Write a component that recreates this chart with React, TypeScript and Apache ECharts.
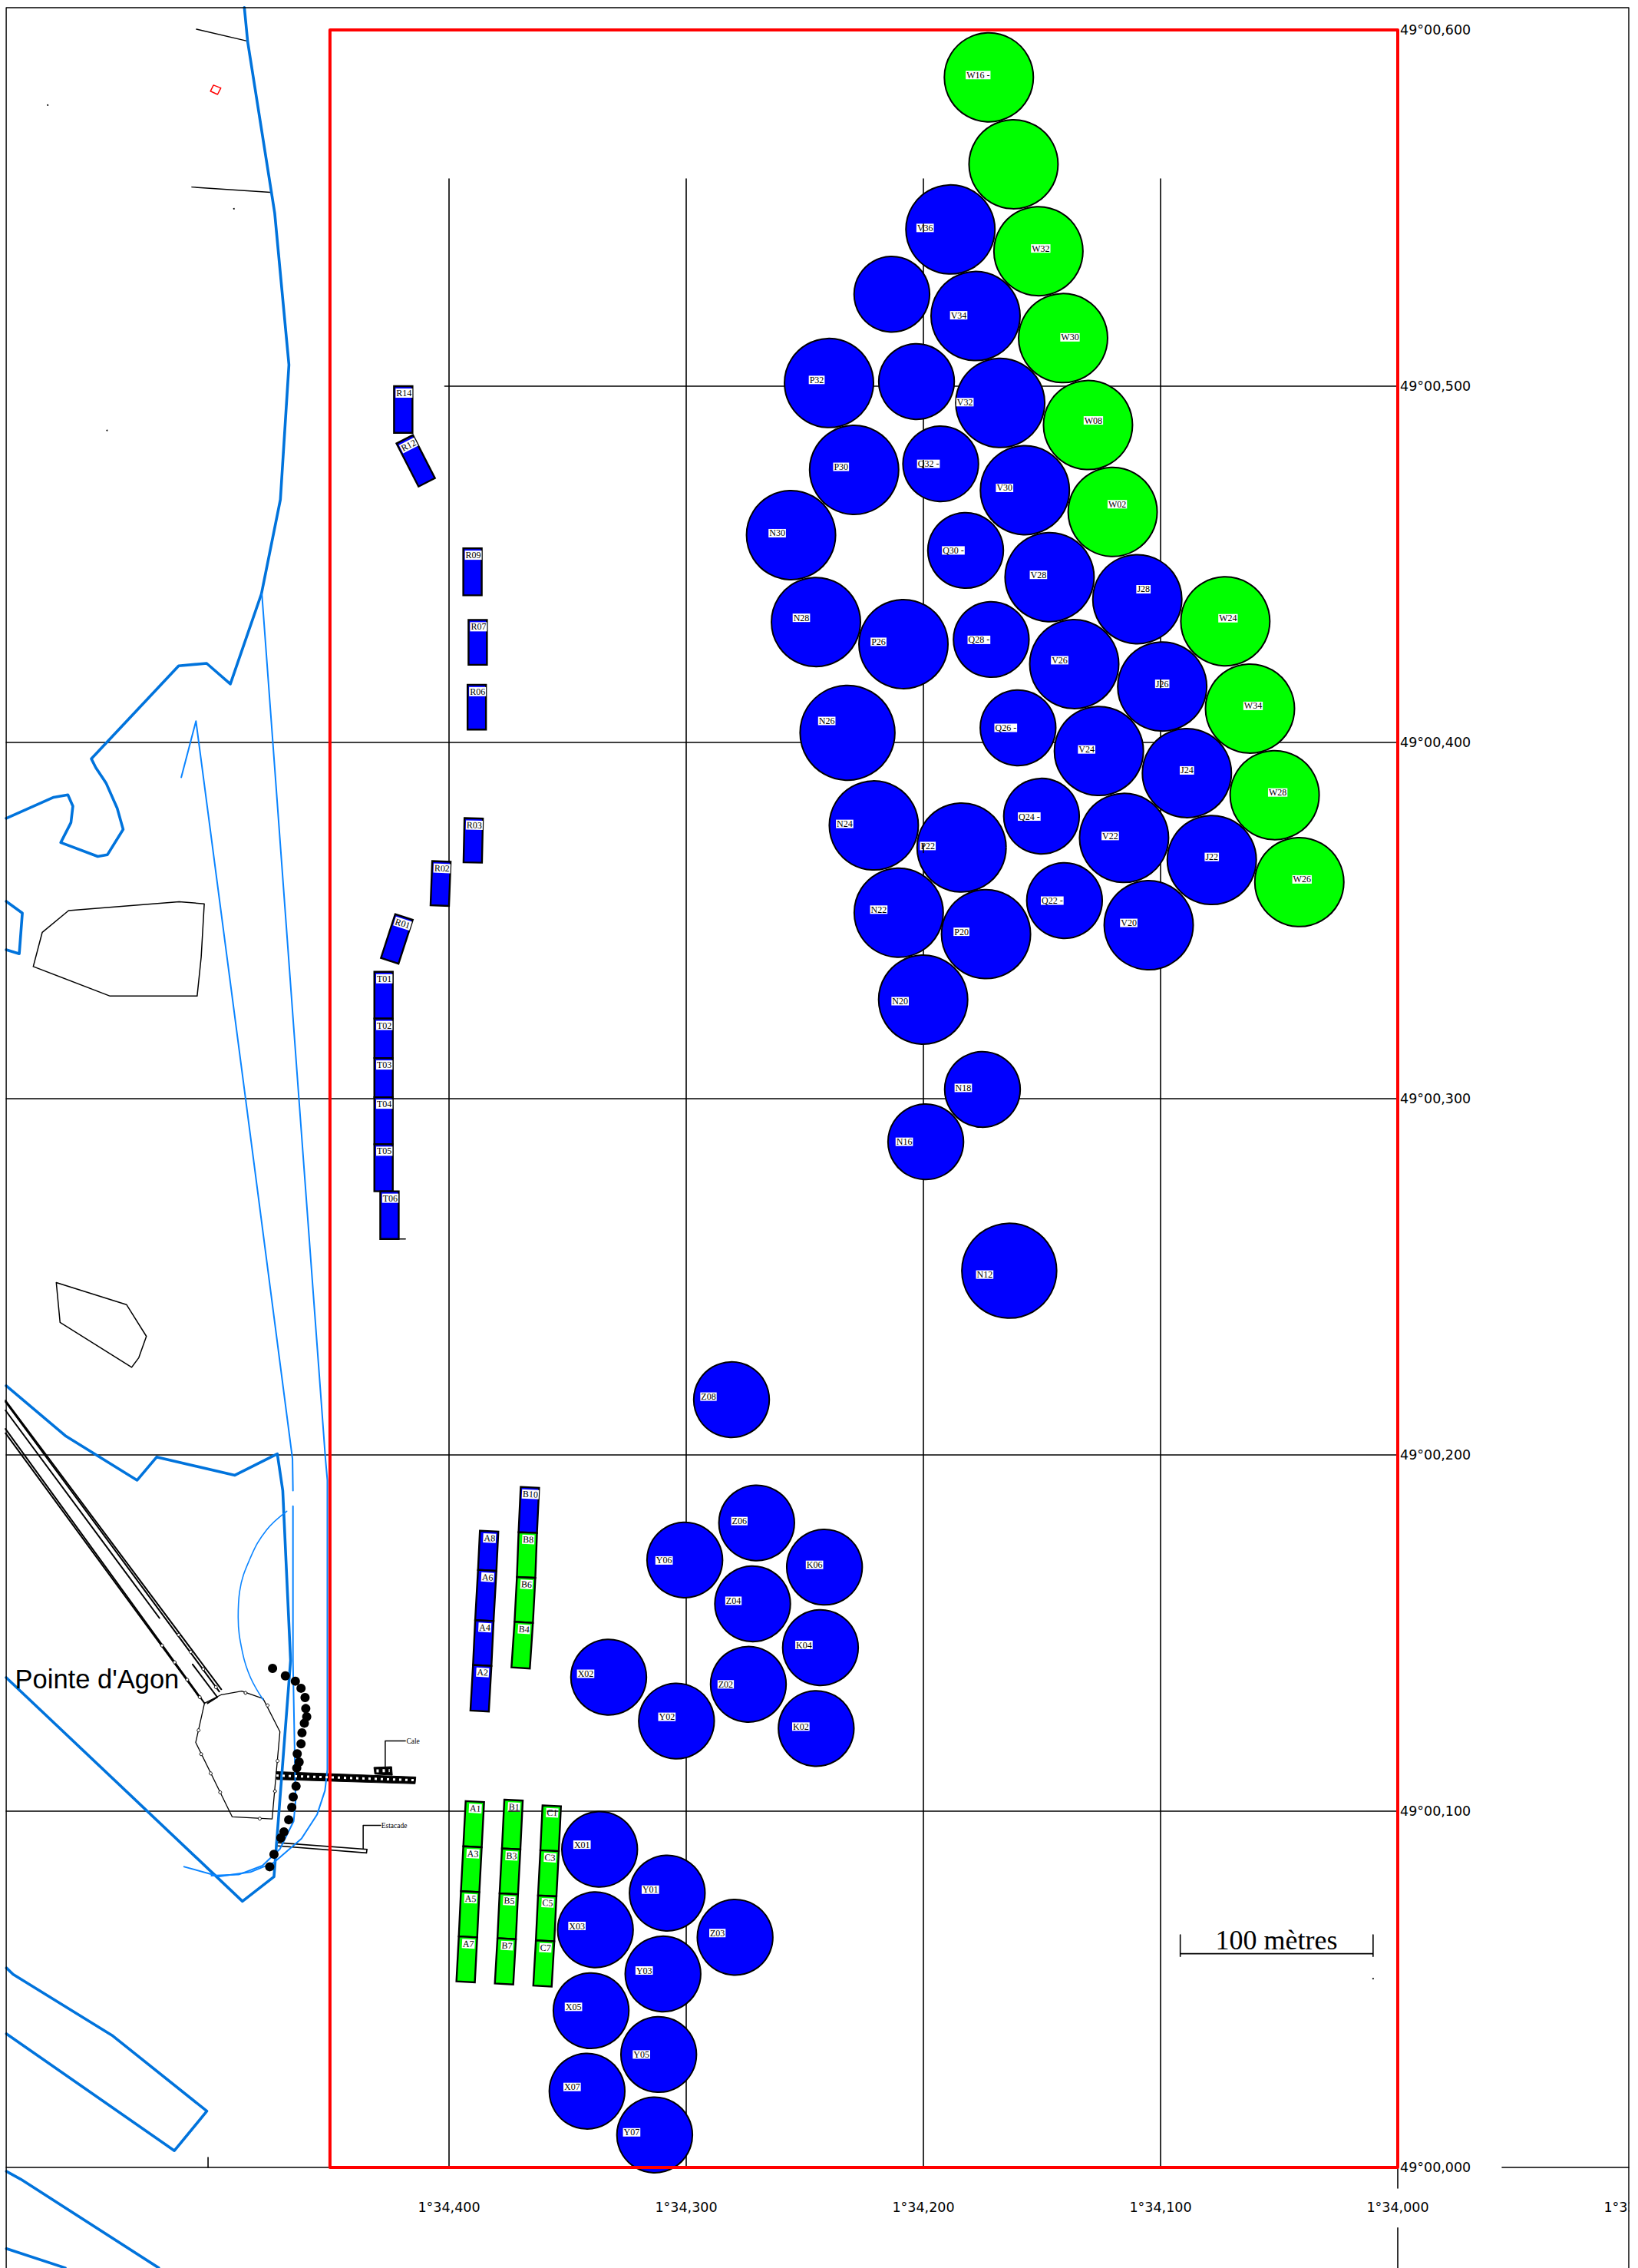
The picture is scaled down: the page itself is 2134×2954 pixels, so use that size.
import React, { useEffect, useRef } from "react";
import * as echarts from "echarts";

// ---- axes (longitude is read right to left, minutes x 1000)
const lonMin = 33900, lonMax = 34600, lonStep = 100;
const latMin = 0, latMax = 600, latStep = 100;
const lonLabelled = [33900, 34000, 34100, 34200, 34300, 34400];

// ---- circular plots: [label, lon, lat, diameter in metres, status]
type Circle = [string, number, number, number, string];
const greenCircles: Circle[] = [
  ["W16 -", 34172.4, 586.7, 47, "g"], ["", 34162.0, 562.3, 47, "g"], ["W32", 34151.5, 537.9, 47, "g"],
  ["W30", 34141.1, 513.5, 47, "g"], ["W08", 34130.6, 489.1, 47, "g"], ["W02", 34120.2, 464.7, 47, "g"],
  ["W24", 34072.7, 434.0, 47, "g"], ["W34", 34062.3, 409.5, 47, "g"], ["W28", 34051.9, 385.2, 47, "g"],
  ["W26", 34041.5, 360.8, 47, "g"],
];
const vCircles: Circle[] = [
  ["V36", 34188.6, 544.0, 47, "b"], ["V34", 34178.0, 519.7, 47, "b"], ["V32", 34167.6, 495.3, 47, "b"],
  ["V30", 34157.2, 470.8, 47, "b"], ["V28", 34146.8, 446.4, 47, "b"], ["V26", 34136.4, 422.0, 47, "b"],
  ["V24", 34126.0, 397.6, 47, "b"], ["V22", 34115.4, 373.2, 47, "b"], ["V20", 34105.0, 348.7, 47, "b"],
];
const jCircles: Circle[] = [
  ["J28", 34109.8, 440.2, 47, "b"], ["J26", 34099.3, 415.7, 47, "b"], ["J24", 34088.9, 391.4, 47, "b"], ["J22", 34078.4, 367.0, 47, "b"],
];
const qCircles: Circle[] = [
  ["", 34213.3, 525.8, 40, "b"], ["", 34202.9, 501.3, 40, "b"], ["Q32 -", 34192.7, 478.2, 40, "b"],
  ["Q30 -", 34182.2, 453.9, 40, "b"], ["Q28 -", 34171.4, 428.9, 40, "b"], ["Q26 -", 34160.1, 404.1, 40, "b"],
  ["Q24 -", 34150.2, 379.3, 40, "b"], ["Q22 -", 34140.5, 355.6, 40, "b"],
];
const pCircles: Circle[] = [
  ["P32", 34239.8, 500.9, 47, "b"], ["P30", 34229.2, 476.5, 47, "b"], ["P26", 34208.4, 427.6, 47, "b"],
  ["P22", 34183.9, 370.5, 47, "b"], ["P20", 34173.6, 346.2, 47, "b"],
];
const nCircles: Circle[] = [
  ["N30", 34255.8, 458.2, 47, "b"], ["N28", 34245.3, 433.8, 47, "b"], ["N26", 34232.0, 402.7, 50, "b"],
  ["N24", 34220.9, 376.7, 47, "b"], ["N22", 34210.4, 352.2, 47, "b"], ["N20", 34200.1, 327.8, 47, "b"],
  ["N18", 34175.1, 302.6, 40, "b"], ["N16", 34199.0, 287.9, 40, "b"], ["N12", 34163.8, 251.7, 50, "b"],
];
const southCircles: Circle[] = [
  ["Z08", 34280.9, 215.5, 40, "b"], ["Z06", 34270.3, 180.9, 40, "b"], ["Y06", 34300.6, 170.5, 40, "b"],
  ["K06", 34241.7, 168.5, 40, "b"], ["Z04", 34272.0, 158.2, 40, "b"], ["K04", 34243.4, 145.9, 40, "b"],
  ["Z02", 34273.8, 135.6, 40, "b"], ["X02", 34332.7, 137.6, 40, "b"], ["Y02", 34304.1, 125.3, 40, "b"],
  ["K02", 34245.2, 123.2, 40, "b"], ["X01", 34336.5, 89.3, 40, "b"], ["Y01", 34308.0, 77.0, 40, "b"],
  ["X03", 34338.3, 66.7, 40, "b"], ["Z03", 34279.4, 64.6, 40, "b"], ["Y03", 34309.8, 54.3, 40, "b"],
  ["X05", 34340.1, 44.0, 40, "b"], ["Y05", 34311.6, 31.7, 40, "b"], ["X07", 34341.8, 21.4, 40, "b"],
  ["Y07", 34313.3, 9.1, 40, "b"],
];

// ---- rectangular plots: [label, status, lonTop, latTop, lonBottom, latBottom]
type Plot = [string, string, number, number, number, number];
const rPlots: Plot[] = [
  ["R14", "b", 34419.3, 500.0, 34419.3, 486.9], ["R12", "b", 34418.7, 485.1, 34409.4, 473.0],
  ["R09", "b", 34390.1, 454.5, 34390.1, 441.3], ["R07", "b", 34387.9, 434.4, 34387.9, 421.8],
  ["R06", "b", 34388.3, 416.2, 34388.3, 403.6], ["R03", "b", 34389.6, 378.7, 34390.0, 366.3],
  ["R02", "b", 34403.2, 366.6, 34403.9, 354.2], ["R01", "b", 34419.0, 351.0, 34425.0, 338.7],
];
const tPlots: Plot[] = [
  ["T01", "b", 34427.6, 335.6, 34427.6, 322.5], ["T02", "b", 34427.6, 322.5, 34427.6, 311.4],
  ["T03", "b", 34427.6, 311.4, 34427.6, 300.4], ["T04", "b", 34427.6, 300.4, 34427.6, 287.2],
  ["T05", "b", 34427.6, 287.2, 34427.6, 274.0], ["T06", "b", 34425.1, 274.0, 34425.1, 260.6],
];
const upperAB: Plot[] = [
  ["B10", "b", 34365.9, 190.9, 34366.8, 178.2], ["B8", "g", 34366.8, 178.2, 34367.5, 165.6],
  ["B6", "g", 34367.5, 165.6, 34368.5, 153.0], ["B4", "g", 34368.5, 153.0, 34369.8, 140.2],
  ["A8", "b", 34383.1, 178.6, 34383.9, 167.6], ["A6", "b", 34383.9, 167.6, 34385.1, 153.5],
  ["A4", "b", 34385.1, 153.5, 34386.0, 140.9], ["A2", "b", 34386.0, 140.9, 34387.1, 128.1],
];
const lowerABC: Plot[] = [
  ["A1", "g", 34389.1, 102.7, 34390.1, 90.0], ["A3", "g", 34390.1, 90.0, 34391.1, 77.4],
  ["A5", "g", 34391.1, 77.4, 34392.0, 64.7], ["A7", "g", 34392.0, 64.7, 34393.0, 52.1],
  ["B1", "g", 34372.8, 103.1, 34373.8, 89.4], ["B3", "g", 34373.8, 89.4, 34374.8, 76.8],
  ["B5", "g", 34374.8, 76.8, 34375.7, 64.2], ["B7", "g", 34375.7, 64.2, 34376.8, 51.5],
  ["C1", "g", 34356.7, 101.5, 34357.6, 88.9], ["C3", "g", 34357.6, 88.9, 34358.6, 76.2],
  ["C5", "g", 34358.6, 76.2, 34359.5, 63.6], ["C7", "g", 34359.5, 63.6, 34360.6, 50.9],
];

// ---- map lines
const coastNorth = [[34486.3,606.3],[34484.9,596.7],[34473.5,548.6],[34467.5,506.0],[34471.1,468.2],[34479.1,441.7],[34492.2,416.4],[34502.2,422.2],[34514.0,421.5],[34550.8,395.4],[34548.9,392.9],[34544.6,388.6],[34539.9,381.5],[34537.4,375.6],[34544.0,368.5],[34548.1,368.0],[34563.7,371.9],[34559.4,377.5],[34558.6,382.1],[34560.7,385.3],[34566.7,384.6],[34586.7,378.7]];
const coastIslet = [[34586.7,355.4],[34579.9,352.1],[34581.2,340.7],[34586.7,341.8]];
const coastPoint = [[34586.7,219.4],[34561.8,205.4],[34531.5,192.9],[34523.3,199.4],[34490.3,194.3],[34472.4,200.3],[34470.1,190.0],[34466.8,142.3],[34473.8,81.6],[34487.1,74.7],[34586.7,137.5]];
const channel = [[34586.6,56.0],[34583.8,54.2],[34541.7,36.9],[34502.1,15.8],[34515.8,4.7],[34586.6,37.5]];
const southA = [[34586.6,-1.1],[34580.6,-3.3],[34522.4,-28.2]];
const southB = [[34586.6,-22.8],[34561.8,-28.2]];
const thinEast = [[34478.9,441.7],[34473.5,392.9],[34463.3,300.1],[34452.1,198.9],[34451.3,192.9],[34451.3,111.6],[34452.3,105.8],[34455.6,99.1],[34462.2,92.3],[34473.8,85.6],[34483.7,82.9],[34496.9,81.7],[34511.7,84.4]];
const thinWestA = [[34512.9,390.2],[34506.7,406.0],[34504.1,392.9],[34485.8,300.1],[34466.0,198.9],[34465.8,190.0]];
const thinWestB = [[34465.8,185.6],[34465.8,142.3],[34464.7,102.9],[34465.5,97.2],[34471.3,89.4],[34478.7,84.7],[34488.7,82.2],[34500.2,81.9]];
const thinArc = [[34468.4,184.2],[34477.0,178.9],[34483.7,171.2],[34488.3,161.6],[34488.9,154.4],[34487.0,144.3],[34483.7,137.5],[34478.4,131.3]];
const sandbankA = [[34575.3,337.1],[34571.5,346.7],[34560.4,352.8],[34513.8,355.3],[34503.2,354.7],[34504.5,339.7],[34506.2,328.8],[34542.9,328.8],[34575.3,337.1]];
const sandbankB = [[34565.6,248.4],[34564.0,237.2],[34533.8,224.6],[34530.8,227.3],[34527.6,233.3],[34536.0,242.2],[34565.6,248.4]];
const groyneN1 = [[34506.5,600.2],[34485.2,596.9]];
const groyneN2 = [[34508.4,555.9],[34475.3,554.4]];
const redMark = [[34500.6,582.8],[34499.3,584.5],[34496.2,583.7],[34497.6,581.9],[34500.6,582.8]];
const jetties = [
  [[34587.0,215.3],[34496.0,134.2]],
  [[34587.0,214.9],[34496.9,133.6]],
  [[34587.0,212.5],[34522.1,154.2]],
  [[34508.1,141.2],[34497.7,132.0],[34501.8,130.3]],
  [[34587.0,207.3],[34503.1,130.3]],
  [[34587.0,206.1],[34505.1,131.8]],
];
const pointOutline = [[34496.0,132.7],[34487.4,133.7],[34478.4,131.6],[34471.3,122.3],[34474.6,97.8],[34491.4,98.4],[34506.8,119.3],[34503.1,130.3]];
const pointNodes = [[34485.8,133.2],[34476.5,129.7],[34472.3,114.1],[34473.4,105.6],[34479.8,97.9],[34496.5,105.3],[34500.5,110.6],[34504.5,116.0],[34505.6,122.7],[34514.0,149.5],[34508.9,144.7],[34503.6,139.9],[34498.3,134.8],[34521.0,146.5],[34515.7,141.8],[34510.4,136.9],[34505.1,132.0]];
const stakes = [[34474.4,140.1],[34469.0,138.0],[34464.8,136.5],[34462.4,134.5],[34460.7,131.9],[34460.4,128.8],[34460.0,126.5],[34461.0,124.7],[34462.0,122.0],[34462.4,118.9],[34464.0,116.1],[34463.2,113.8],[34464.2,112.1],[34464.5,107.0],[34465.7,104.0],[34466.3,101.1],[34467.6,97.6],[34469.6,94.2],[34470.9,92.5],[34473.8,87.9],[34475.6,84.4]];
const specks = [[34569.2,578.9],[34544.2,487.6],[34490.7,549.8],[34010.4,53.0]];
const slipway = [[34472.9,111.1],[34414.0,109.6],[34414.3,107.7],[34472.6,108.9]];
const slipwayHatch = [[34472.8,110.0],[34414.2,108.7]];
const slipwayHead = [[34431.7,112.3],[34424.2,112.5],[34423.9,110.1],[34431.3,110.4]];
const slipwayHeadHatch = [[34430.6,111.3],[34425.0,111.4]];
const slipwayLeader = [[34426.9,112.5],[34426.9,119.7],[34418.4,119.7]];
const pier = [[34472.9,91.2],[34434.6,89.3],[34434.8,88.3],[34472.9,90.3]];
const pierLeader = [[34436.2,89.4],[34436.2,96.0],[34428.8,96.0]];
const t06Tail = [[34420.9,260.6],[34418.4,260.6]];

// ---- graticule and frames
const gridLonTop = 558.2;
const meridians = [34400, 34300, 34200, 34100];
const parallels = [400, 300, 200, 100, 0];
const frameLeft = 34586.7, frameRight = 33902.6, frameTop = 606.25, frameBottom = -28.2;
const parallel500 = [[34401.8,500],[34000,500]];
const parallel0East = [[33956,0],[frameRight,0]];
const meridian0A = [[34000,0],[34000,-5.8]];
const meridian0B = [[34000,-17],[34000,frameBottom]];
const tick34500 = [[34501.6,2.8],[34501.6,0]];
const studyArea = [[34450.2,600],[34000,600],[34000,0],[34450.2,0],[34450.2,600]];
const scaleBar = [[34091.7,65.3],[34091.7,59.2],[34091.7,60],[34010.4,60],[34010.4,65.3],[34010.4,59.2]];
// graticule pieces that run across the white label boxes in the reference
const labelStrikes = [
  [[34200,545.5],[34200,543.3]],
  [[34200,479.2],[34200,477.0]],
  [[34100,417.6],[34100,415.4]],
  [[34200,371.3],[34200,369.1]],
  [[34374.8,100],[34370.2,100]],
  [[34358.6,100],[34354.0,100]],
];

// ---- free texts
const placeName: [string, number, number] = ["Pointe d'Agon", 34583.0, 137.1];
const slipwayName: [string, number, number] = ["Cale", 34418.0, 119.7];
const pierName: [string, number, number] = ["Estacade", 34428.6, 96.0];
const scaleName: [string, number, number] = ["100 mètres", 34051.1, 63.8];

// ---- styling (kept apart from the data)
const BLUE = "#0000ff";
const GREEN = "#00ff00";
const RED = "#ff0000";
const COAST = "#0073dc";
const THIN = "#0a84ff";
const PX_PER_METRE = 2.51;
const statusColor: Record<string, string> = { b: BLUE, g: GREEN };
const labelOffsets: Record<string, [number, number]> = {
  "W16 -": [-14,-3], V36: [-33,-2], W32: [3,-3.5], V34: [-22,-1], W30: [9,-1], P32: [-16,-4], V32: [-46,-1], W08: [7,-6],
  P30: [-17,-4], "Q32 -": [-16,0], V30: [-26.5,-3], W02: [6,-10], N30: [-18,-2.5], "Q30 -": [-16,0], V28: [-14.5,-3],
  J28: [8,-13], W24: [3.5,-4], N28: [-19,-5.5], P26: [-32.5,-3], "Q28 -": [-16,0.5], V26: [-19,-5], J26: [0,-3.5],
  W34: [4,-3.5], N26: [-27,-15.5], "Q26 -": [-16,0], V24: [-16,-2], J24: [0,-3.5], W28: [4,-3.5], N24: [-38,-2],
  "Q24 -": [-16,0.5], V22: [-18,-2.5], J22: [0,-4], W26: [3.5,-3.5], P22: [-44,-2], N22: [-26,-4], "Q22 -": [-16,0],
  P20: [-32,-3], V20: [-26,-3], N20: [-30,2], N18: [-25,-2], N16: [-28,0], N12: [-32,5], Z08: [-30,-4],
  Z06: [-22.5,-2.5], Y06: [-27,0.5], K06: [-13,-3], Z04: [-25,-4], K04: [-21.5,-3.5], Z02: [-29.5,0], X02: [-30,-4.5],
  Y02: [-12.5,-5.5], K02: [-20,-2.5], X01: [-23,-6], Y01: [-22,-4.5], X03: [-24,-5], Z03: [-23,-5.5], Y03: [-24.5,-4.5],
  X05: [-23,-5], Y05: [-22.5,0], X07: [-19.5,-5.5], Y07: [-30,-3.5],
};

const polyline = (data: number[][], color: string, width: number, z: number, smooth: boolean | number = false, dash?: number[]) => ({
  type: "line", data, clip: false, showSymbol: false, symbol: "none", silent: true, smooth,
  lineStyle: { color, width, cap: dash ? "butt" : "round", join: "round", type: dash ?? "solid" }, itemStyle: { color }, z,
});

const polygon = (points: number[][], fill: string, stroke: string, lineWidth: number, z: number) => ({
  type: "custom", coordinateSystem: "cartesian2d", silent: true, z, clip: false, data: [points[0]],
  encode: { x: 0, y: 1 },
  renderItem: (_: any, api: any) => ({
    type: "polygon",
    shape: { points: points.map((p) => api.coord(p)) },
    style: { fill, stroke, lineWidth },
  }),
});

const dots = (data: number[][], size: number, color: string, borderColor: string, borderWidth: number, z: number) => ({
  type: "scatter", data, clip: false, silent: true, symbolSize: size, z,
  itemStyle: { color, borderColor, borderWidth, opacity: 1 },
});

const freeText = (t: [string, number, number], fontFamily: string, fontSize: number, align: string) => ({
  type: "scatter", clip: false, silent: true, z: 7, symbolSize: 1, itemStyle: { color: "transparent" },
  data: [[t[1], t[2]]],
  label: {
    show: true, position: "inside", formatter: t[0], fontFamily, fontSize, color: "#000", opacity: 1,
    align, verticalAlign: "middle", textBorderWidth: 0,
  },
});

const circleSeries = (rows: Circle[]) => ({
  type: "scatter", clip: false, silent: true, z: 4,
  data: rows.map((r) => ({
    value: [r[1], r[2]],
    symbolSize: r[3] * PX_PER_METRE - 2,
    itemStyle: { color: statusColor[r[4]], borderColor: "#000", borderWidth: 2, opacity: 1 },
    label: {
      show: r[0] !== "", formatter: r[0], position: "inside",
      offset: labelOffsets[r[0]] ?? [0, 0],
      fontFamily: "Liberation Serif", fontSize: 12, color: "#000", backgroundColor: "#fff",
      padding: [0, 1, 0, 1], lineHeight: 11, textBorderWidth: 0,
    },
  })),
});

const PLOT_HALF = 12;
const plotSeries = (rows: Plot[]) => ({
  type: "custom", coordinateSystem: "cartesian2d", silent: true, clip: false, z: 4,
  data: rows.map((r) => [r[2], r[3], r[4], r[5]]),
  encode: { x: [0, 2], y: [1, 3] },
  renderItem: (params: any, api: any) => {
    const r = rows[params.dataIndex];
    const a = api.coord([r[2], r[3]]);
    const b = api.coord([r[4], r[5]]);
    const len = Math.hypot(b[0] - a[0], b[1] - a[1]);
    const ux = (b[0] - a[0]) / len, uy = (b[1] - a[1]) / len;
    const nx = -uy * PLOT_HALF, ny = ux * PLOT_HALF;
    return {
      type: "group",
      children: [
        {
          type: "polygon",
          shape: { points: [[a[0] + nx, a[1] + ny], [a[0] - nx, a[1] - ny], [b[0] - nx, b[1] - ny], [b[0] + nx, b[1] + ny]] },
          style: { fill: statusColor[r[1]], stroke: "#000", lineWidth: 2.4 },
        },
        {
          type: "text", x: a[0] + 1 + ux * 9, y: a[1] + uy * 9, rotation: Math.atan2(ux, uy),
          style: {
            text: r[0], fill: "#000", fontFamily: "Liberation Serif", fontSize: 12,
            align: "center", verticalAlign: "middle", backgroundColor: "#fff", padding: [0, 1, 0, 1],
          },
        },
      ],
    };
  },
});

export default function App() {
  const ref = useRef<HTMLDivElement>(null);
  useEffect(() => {
    document.body.style.margin = "0";
    const chart = echarts.init(ref.current!, undefined, { renderer: "svg" });
    const series: any[] = [
      // graticule
      ...meridians.map((m) => polyline([[m, gridLonTop], [m, 0]], "#000", 1.6, 1)),
      ...parallels.map((p) => polyline([[frameLeft, p], [34000, p]], "#000", 1.6, 1)),
      polyline(parallel500, "#000", 1.6, 1),
      polyline(parallel0East, "#000", 1.6, 1),
      polyline(meridian0A, "#000", 1.6, 1),
      polyline(meridian0B, "#000", 1.6, 1),
      polyline(tick34500, "#000", 1.6, 1),
      // frame
      polyline([[frameLeft, frameBottom], [frameLeft, frameTop], [frameRight, frameTop], [frameRight, frameBottom]], "#000", 1.4, 6),
      // map
      polyline(sandbankA, "#000", 1.5, 2),
      polyline(sandbankB, "#000", 1.5, 2),
      polyline(groyneN1, "#000", 1.5, 2),
      polyline(groyneN2, "#000", 1.5, 2),
      ...jetties.map((j) => polyline(j, "#000", 2, 2)),
      polyline([...pointOutline, pointOutline[0]], "#000", 1.3, 2),
      polyline(redMark, RED, 1.5, 2),
      polyline(coastNorth, COAST, 3.6, 3),
      polyline(coastIslet, COAST, 3.6, 3),
      polyline(coastPoint, COAST, 3.6, 3),
      polyline(channel, COAST, 3.6, 3),
      polyline(southA, COAST, 3.6, 3),
      polyline(southB, COAST, 3.6, 3),
      polyline(thinEast, THIN, 2, 3),
      polyline(thinWestA, THIN, 2, 3),
      polyline(thinWestB, THIN, 2, 3),
      polyline(thinArc, THIN, 1.6, 3, 0.4),
      dots(pointNodes, 4, "#fff", "#000", 1, 3),
      dots(stakes, 12, "#000", "#000", 0, 3),
      dots(specks, 2, "#000", "#000", 0, 2),
      // structures
      polygon(slipway, "#000", "#000", 1, 3),
      polyline(slipwayHatch, "#fff", 3, 3, false, [3, 5]),
      polygon(slipwayHead, "#000", "#000", 1, 3),
      polyline(slipwayHeadHatch, "#fff", 4, 3, false, [3, 5]),
      polyline(slipwayLeader, "#000", 1.5, 3),
      polygon(pier, "#fff", "#000", 1.6, 3),
      polyline(pierLeader, "#000", 1.5, 3),
      polyline(t06Tail, "#000", 1.6, 3),
      // plots
      circleSeries(greenCircles), circleSeries(vCircles), circleSeries(jCircles), circleSeries(qCircles),
      circleSeries(pCircles), circleSeries(nCircles), circleSeries(southCircles),
      plotSeries(rPlots), plotSeries(tPlots), plotSeries(upperAB), plotSeries(lowerABC),
      ...labelStrikes.map((s) => polyline(s, "#000", 1.6, 5)),
      // study area on top
      polyline(studyArea, RED, 4, 5),
      polyline(scaleBar, "#000", 1.6, 6),
      freeText(placeName, "Liberation Sans", 34.5, "left"),
      freeText(slipwayName, "Liberation Serif", 9.5, "left"),
      freeText(pierName, "Liberation Serif", 9.5, "left"),
      freeText(scaleName, "Liberation Serif", 36, "center"),
    ];
    chart.setOption({
      animation: false,
      backgroundColor: "#fff",
      grid: { left: -33, right: 4, top: 39, bottom: 131, containLabel: false, outerBoundsMode: "none" },
      xAxis: {
        type: "value", inverse: true, min: lonMin, max: lonMax, interval: lonStep,
        axisLine: { show: false }, axisTick: { show: false }, splitLine: { show: false },
        axisLabel: {
          margin: 43, fontFamily: "DejaVu Sans", fontSize: 17.5, color: "#000", hideOverlap: false,
          showMinLabel: true, showMaxLabel: true,
          formatter: (v: number) => (lonLabelled.includes(v) ? `1°${String(Math.floor(v / 1000))},${String(v % 1000).padStart(3, "0")}` : ""),
        },
      },
      yAxis: {
        type: "value", position: "right", offset: -309, min: latMin, max: latMax, interval: latStep,
        axisLine: { show: false }, axisTick: { show: false }, splitLine: { show: false },
        axisLabel: {
          margin: 3, fontFamily: "DejaVu Sans", fontSize: 17.5, color: "#000", hideOverlap: false,
          showMinLabel: true, showMaxLabel: true,
          formatter: (v: number) => `49°00,${String(v).padStart(3, "0")}`,
        },
      },
      graphic: [
        { type: "rect", z: 100, silent: true, shape: { x: 2123, y: 0, width: 11, height: 2954 }, style: { fill: "#fff" } },
      ],
      series,
    });
    return () => chart.dispose();
  }, []);
  return <div ref={ref} style={{ position: "absolute", left: 0, top: 0, width: 2134, height: 2954 }} />;
}
